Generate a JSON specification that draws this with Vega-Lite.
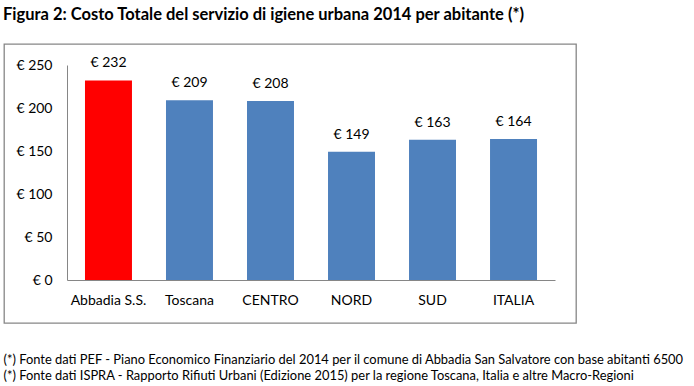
{
  "$schema": "https://vega.github.io/schema/vega-lite/v6.json",
  "width": 572,
  "height": 279,
  "autosize": "none",
  "padding": {"left": 4, "top": 44, "right": 118, "bottom": 63},
  "background": "white",
  "config": {
    "locale": {"number": {"decimal": ",", "thousands": ".", "grouping": [3], "currency": ["€ ", ""]}},
    "view": {"stroke": "#868686", "strokeWidth": 1.3},
    "font": "Lato"
  },
  "title": {
    "text": "Figura 2: Costo Totale del servizio di igiene urbana 2014 per abitante (*)",
    "anchor": "start",
    "frame": "group",
    "fontSize": 16.5,
    "fontWeight": "bold",
    "font": "Lato",
    "color": "#000000",
    "offset": 8,
    "baseline": "alphabetic",
    "dx": -1
  },
  "data": {
    "values": [
      {"area": "Abbadia S.S.", "costo": 232},
      {"area": "Toscana", "costo": 209},
      {"area": "CENTRO", "costo": 208},
      {"area": "NORD", "costo": 149},
      {"area": "SUD", "costo": 163},
      {"area": "ITALIA", "costo": 164}
    ]
  },
  "layer": [
    {
      "mark": {"type": "bar"},
      "encoding": {
        "x": {
          "field": "area",
          "type": "nominal",
          "sort": null,
          "scale": {"range": [63, 551], "paddingInner": 0.42, "paddingOuter": 0.222},
          "axis": {
            "orient": "bottom",
            "offset": -43,
            "domainColor": "#868686",
            "domainWidth": 1,
            "ticks": false,
            "labelPadding": 13,
            "labelAngle": 0,
            "labelFontSize": 14,
            "labelColor": "#000000",
            "title": [
              "(*) Fonte dati PEF - Piano Economico Finanziario del 2014 per il comune di Abbadia San Salvatore con base abitanti 6500",
              "(*) Fonte dati ISPRA - Rapporto Rifiuti Urbani (Edizione 2015) per la regione Toscana, Italia e altre Macro-Regioni"
            ],
            "titleAlign": "left",
            "titleAnchor": "start",
            "titleX": -1,
            "titleY": 73,
            "titleBaseline": "top",
            "titleFontSize": 12.9,
            "titleFontWeight": "normal",
            "titleLineHeight": 16,
            "titleColor": "#000000"
          }
        },
        "y": {
          "field": "costo",
          "type": "quantitative",
          "scale": {"domain": [0, 250], "range": [236, 21], "nice": false, "zero": true},
          "axis": {
            "offset": -63,
            "ticks": false,
            "grid": false,
            "values": [0, 50, 100, 150, 200, 250],
            "format": "$d",
            "labelPadding": 15,
            "labelFontSize": 14,
            "labelColor": "#000000",
            "domainColor": "#868686",
            "domainWidth": 1,
            "title": null
          }
        },
        "color": {
          "condition": {"test": "datum.area === 'Abbadia S.S.'", "value": "#FF0000"},
          "value": "#4F81BD"
        }
      }
    },
    {
      "mark": {"type": "text", "baseline": "bottom", "dy": -10, "fontSize": 14, "color": "#000000"},
      "encoding": {
        "x": {"field": "area", "type": "nominal", "sort": null},
        "y": {"field": "costo", "type": "quantitative"},
        "text": {"field": "costo", "type": "quantitative", "format": "$d"}
      }
    }
  ]
}
